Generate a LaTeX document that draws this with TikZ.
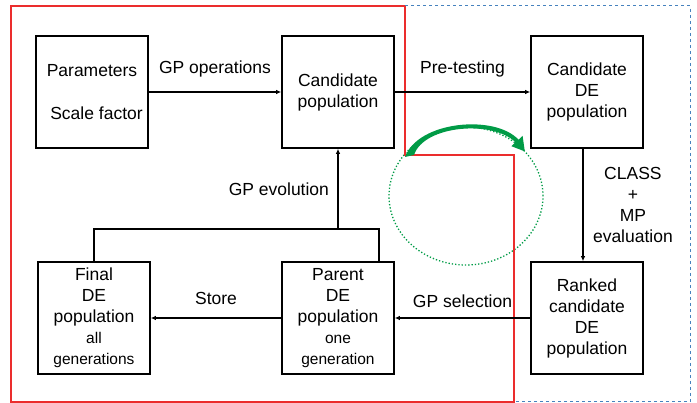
\documentclass[tikz,border=0pt]{standalone}
\usepackage{fontspec}
\setmainfont{Liberation Sans}
\usetikzlibrary{positioning,calc,arrows.meta}

\definecolor{framered}{RGB}{235,45,45}
\definecolor{frameblue}{RGB}{70,130,190}
\definecolor{loopgreen}{RGB}{0,155,70}
\newcommand{\smalllbl}{\fontsize{15.5}{20}\selectfont}

\begin{document}
\begin{tikzpicture}[
      x=1pt, y=-1pt,
      stagebox/.style={rectangle, draw, line width=1.6pt, minimum width=112pt, minimum height=112pt, align=center, inner sep=0pt, font=\fontsize{17.5}{21}\selectfont},
      lbl/.style={font=\fontsize{17.5}{21}\selectfont, align=center},
      arr/.style={-{Latex[length=5pt,width=4.5pt]}, line width=1.4pt},
      link/.style={line width=1.4pt},
   ]
   \useasboundingbox (0,0) rectangle (697,403);

   % loop marker, behind the frames
   \draw[loopgreen, dotted, line width=1.3pt] (466,196) ellipse [x radius=77pt, y radius=69pt];

   % frames
   \draw[framered, line width=1.3pt] (11,6) -- (405,6) -- (405,155) -- (514,155) -- (514,402) -- (11,402) -- cycle;
   \draw[frameblue, dashed, line width=1pt] (405,6) -- (690,6) -- (690,402) -- (514,402);

   \node[stagebox] (params) at (92,92)  {Parameters\\[22pt]\hspace*{9pt}Scale factor};
   \node[stagebox] (cand)   at (338,92) {Candidate\\population};
   \node[stagebox] (candde) at (587,92) {Candidate\\DE\\population};
   \node[stagebox] (ranked) at (587,318) {Ranked\\candidate\\DE\\population};
   \node[stagebox] (parent) at (338,318) {Parent\\DE\\population\\{\smalllbl one}\\{\smalllbl generation}};
   \node[stagebox] (final)  at (94,318)  {Final\\DE\\population\\{\smalllbl all}\\{\smalllbl generations}};

   \draw[arr] (params) -- (cand) node[midway, above=11pt, lbl] {GP operations};
   \draw[arr] (cand) -- (candde) node[midway, above=11pt, lbl] {Pre-testing};
   \draw[arr] ([xshift=-4pt]candde.south) -- ([xshift=-4pt]ranked.north)
      node[midway, right=6pt, lbl] {CLASS\\+\\MP\\evaluation};
   \draw[arr] (ranked) -- (parent) node[midway, above=6.5pt, lbl] {GP selection};
   \draw[arr] (parent) -- (final) node[midway, above=9.5pt, lbl] {Store};

   % evolution loop back to the candidates
   \coordinate (evo) at (cand.south |- 0,229);
   \draw[link] (final.north) |- (evo) -| ([xshift=41pt]parent.north);
   \draw[arr] (evo) -- (cand.south) node[midway, left=5pt, lbl] {GP evolution};

   % curved swoosh over the loop
   \fill[loopgreen] (405,157) .. controls (418,121) and (495,114) .. (518.6,139.8)
      -- (522.6,135.8) -- (524.8,151.4) -- (511.4,146.2) -- (515.4,142.2)
      .. controls (493,120) and (424,125) .. (414,155) -- cycle;

\end{tikzpicture}
\end{document}
